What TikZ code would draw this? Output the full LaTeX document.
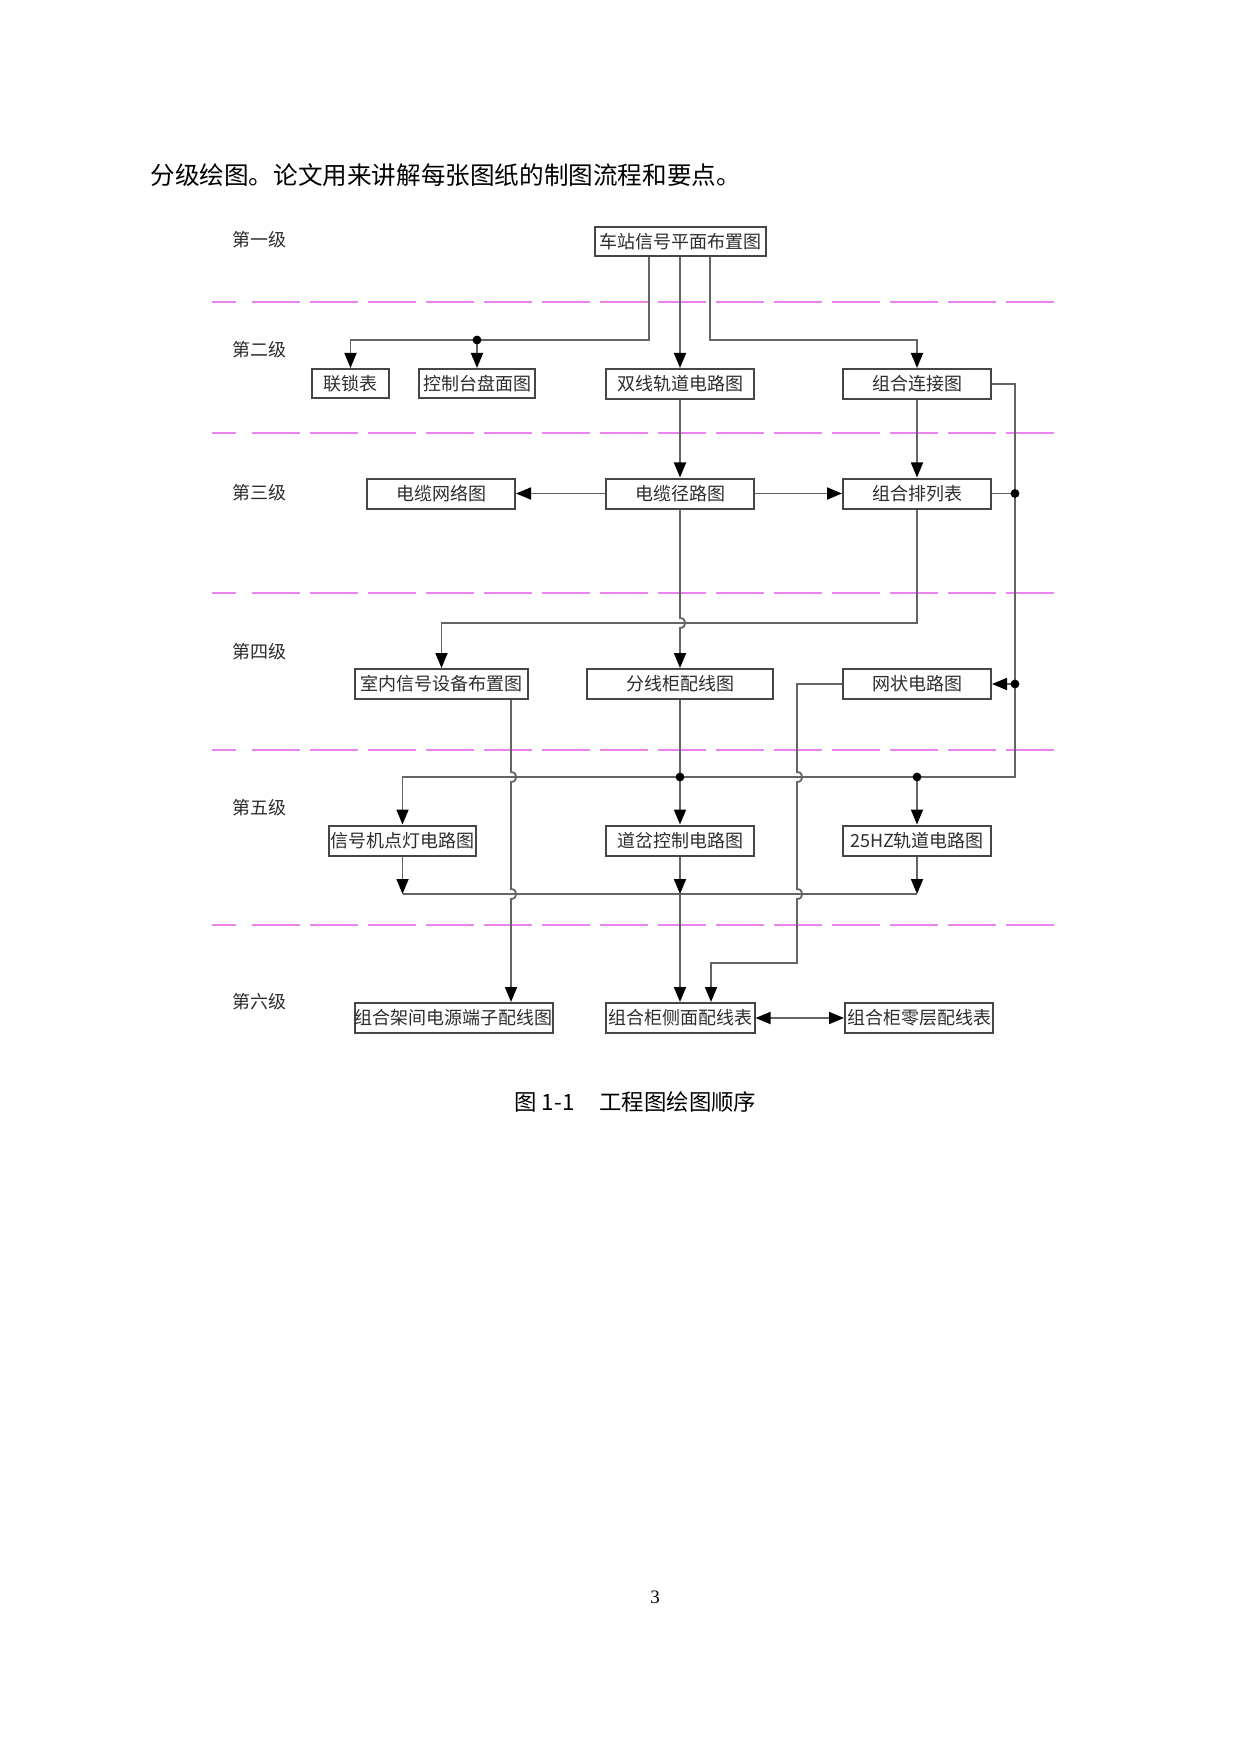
\documentclass[tikz,border=0pt]{standalone}
\usepackage{fontspec}
\newfontfamily\cjk{Noto Sans CJK SC}
\newfontfamily\serifnum{Liberation Serif}
\usetikzlibrary{arrows.meta}
\definecolor{mag}{RGB}{236,130,236}
\definecolor{lgray}{RGB}{100,100,100}
\definecolor{bgray}{RGB}{70,70,70}
\definecolor{tgray}{RGB}{45,45,45}
\begin{document}
\begin{tikzpicture}[x=0.5pt,y=-0.5pt,
  box/.style={draw=bgray,line width=1pt,inner sep=0pt,minimum height=15pt,text=tgray,font=\cjk\fontsize{9pt}{10pt}\selectfont,fill=white},
  ln/.style={draw=lgray,line width=0.9pt},
  arr/.style={-{Triangle[length=7.5pt,width=6pt,color=black]}},
  arrs/.style={{Triangle[length=7.5pt,width=6pt,color=black]}-{Triangle[length=7.5pt,width=6pt,color=black]}},
  lvl/.style={anchor=west,inner sep=0pt,text=tgray,font=\cjk\fontsize{9pt}{10pt}\selectfont},
  sep/.style={draw=mag,line width=1pt},
]
\fill[white] (0,0) rectangle (1240,1754);
\useasboundingbox (0,0) rectangle (1240,1754);

% separators
\foreach \yy in {302,433,593,750,925}{
  \draw[sep] (212,\yy) -- (236,\yy);
  \draw[sep,dash pattern=on 24pt off 5pt] (252,\yy) -- (1058,\yy);
}

% texts
\node[anchor=west,inner sep=0pt,font=\cjk\fontsize{12.3pt}{14pt}\selectfont] (body) at (150,175) {分级绘图。论文用来讲解每张图纸的制图流程和要点。};
\node[lvl] (l1) at (232,240) {第一级};
\node[lvl] (l2) at (232,350) {第二级};
\node[lvl] (l3) at (232,493) {第三级};
\node[lvl] (l4) at (232,652) {第四级};
\node[lvl] (l5) at (232,808) {第五级};
\node[lvl] (l6) at (232,1002) {第六级};
\node[anchor=west,inner sep=0pt,font=\cjk\fontsize{11.2pt}{13pt}\selectfont] (cap) at (514,1102) {图 1-1\hspace{12.5pt}工程图绘图顺序};
\node[font=\serifnum\fontsize{9.5pt}{11pt}\selectfont,inner sep=0pt] (pg) at (655,1597) {3};

% boxes
\node[box,minimum width=85.5pt,minimum height=14.5pt] (zhan) at (680,241.5) {车站信号平面布置图};
\node[box,minimum width=38.5pt,minimum height=14.5pt] (lian) at (350.5,383.5) {联锁表};
\node[box,minimum width=58pt,minimum height=14.5pt] (kong) at (477,383.5) {控制台盘面图};
\node[box,minimum width=74pt] (shuang) at (680,384) {双线轨道电路图};
\node[box,minimum width=74pt] (zuhe) at (917,384) {组合连接图};
\node[box,minimum width=74pt] (wangluo) at (441,493.5) {电缆网络图};
\node[box,minimum width=74pt] (jinglu) at (680,493.5) {电缆径路图};
\node[box,minimum width=74pt] (pailie) at (917,493.5) {组合排列表};
\node[box,minimum width=86.5pt] (shinei) at (441.5,684) {室内信号设备布置图};
\node[box,minimum width=93pt] (fenxian) at (680,684) {分线柜配线图};
\node[box,minimum width=74pt] (wangzhuang) at (917,684) {网状电路图};
\node[box,minimum width=73.5pt] (xinhao) at (402.5,840.5) {信号机点灯电路图};
\node[box,minimum width=74pt] (daocha) at (680,840.5) {道岔控制电路图};
\node[box,minimum width=74pt] (hz) at (917,840.5) {25HZ轨道电路图};
\node[box,minimum width=98.5pt] (jiajian) at (453.5,1018) {组合架间电源端子配线图};
\node[box,minimum width=74.5pt] (cemian) at (680,1018) {组合柜侧面配线表};
\node[box,minimum width=74pt] (lingceng) at (919,1018) {组合柜零层配线表};

% level 1 -> 2
\coordinate (a1) at (649,340);
\coordinate (a2) at (710,340);
\coordinate (dk) at (477,340);
\draw[ln,arr] (zhan.south -| a1) -- (a1) -| (lian.north);
\draw[ln,arr] (dk) -- (kong.north);
\draw[ln,arr] (zhan.south) -- (shuang.north);
\draw[ln,arr] (zhan.south -| a2) -- (a2) -| (zuhe.north);

% level 2 -> 3
\draw[ln,arr] (shuang.south) -- (jinglu.north);
\draw[ln,arr] (zuhe.south) -- (pailie.north);
\draw[ln,arr] (jinglu.west) -- (wangluo.east);
\draw[ln,arr] (jinglu.east) -- (pailie.west);

% right bus
\coordinate (r1) at (1015,384);
\coordinate (r2) at (1015,493.5);
\coordinate (r3) at (1015,684);
\coordinate (r4) at (1015,777);
\coordinate (m1) at (680,777);
\coordinate (m2) at (917,777);
\draw[ln,arr] (zuhe.east) -- (r1) -- (r4) -| (xinhao.north);
\draw[ln] (pailie.east) -- (r2);
\draw[ln,arr] (r3) -- (wangzhuang.east);
\draw[ln,arr] (m2) -- (hz.north);
\draw[ln,arr] (fenxian.south) -- (daocha.north);

% level 3 -> 4
\coordinate (c1) at (917,623);
\draw[ln,arr] (pailie.south) -- (c1) -| (shinei.north);
\draw[ln,arr] (jinglu.south) -- (680,618) .. controls (687,618) and (687,628) .. (680,628) -- (fenxian.north);

% shinei -> jiajian
\coordinate (s1) at (511,777);
\draw[ln,arr] (shinei.south -| s1) -- (511,772) .. controls (518,772) and (518,782) .. (511,782) -- (511,889) .. controls (518,889) and (518,899) .. (511,899) -- (jiajian.north -| s1);

% wangzhuang -> cemian
\coordinate (w1) at (797,684);
\coordinate (w2) at (797,963);
\coordinate (w3) at (711,963);
\draw[ln,arr] (wangzhuang.west) -- (w1) -- (797,772) .. controls (804,772) and (804,782) .. (797,782) -- (797,889) .. controls (804,889) and (804,899) .. (797,899) -- (w2) -- (w3) -- (cemian.north -| w3);

% level 5 -> 6 bus
\coordinate (e2) at (680,894);
\coordinate (e3) at (917,894);
\draw[ln] (xinhao.south |- e2) -- (e3);
\draw[ln,arr] (xinhao.south) -- (xinhao.south |- e2);
\draw[ln,arr] (daocha.south) -- (e2);
\draw[ln,arr] (hz.south) -- (e3);
\draw[ln,arr] (e2) -- (cemian.north);
\draw[ln,arrs] (cemian.east) -- (lingceng.west);

% dots
\foreach \p in {dk,r2,r3,m1,m2} \fill (\p) circle[radius=2.2pt];
\end{tikzpicture}
\end{document}
